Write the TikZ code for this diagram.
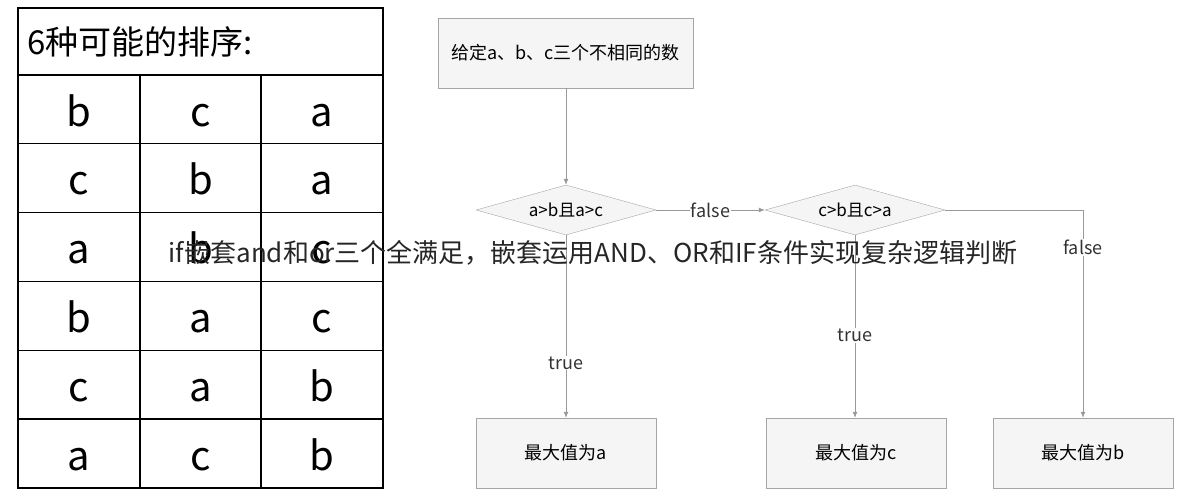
\documentclass[tikz,border=0pt]{standalone}
\usepackage{fontspec}
\setmainfont{Noto Sans CJK SC}
\usetikzlibrary{shapes.geometric,arrows.meta}
\begin{document}
\begin{tikzpicture}[x=1pt,y=-1pt,
 fbox/.style={draw=gray!70,fill=gray!8,minimum width=180pt,minimum height=70pt,font=\fontsize{18}{21}\selectfont,inner sep=0pt},
 dia/.style={diamond,draw=gray!70,fill=gray!8,aspect=3.6,minimum width=180pt,minimum height=50pt,inner sep=0pt,font=\fontsize{17}{20}\selectfont},
 conn/.style={draw=gray!80,line width=0.8pt,-{Latex[length=6pt,width=5pt]}},
 lab/.style={fill=white,inner sep=1pt,font=\fontsize{18}{21}\selectfont,text=black!80},
 cell/.style={font=\fontsize{40}{44}\selectfont,text height=30pt,text depth=0pt,inner sep=0pt}]
\useasboundingbox (0,0) rectangle (1187,490);
\fill[white] (0,0) rectangle (1187,490);
% table
\draw[line width=1.2pt] (18,8) rectangle (383,488);
\foreach \y in {75,143.8,212.6,281.4,350.2,419}{\draw[line width=1.2pt] (18,\y)--(383,\y);}
\draw[line width=1.2pt] (140,75)--(140,488) (261,75)--(261,488);
\node[anchor=west,font=\fontsize{33}{36}\selectfont] (hdr) at (24,42) {6种可能的排序:};
\foreach \r/\a/\b/\c [count=\i] in {0/b/c/a,1/c/b/a,2/a/b/c,3/b/a/c,4/c/a/b,5/a/c/b}{
 \node[cell] (t\i a) at (79,111+68.8*\r) {\a};
 \node[cell] (t\i b) at (200.5,111+68.8*\r) {\b};
 \node[cell] (t\i c) at (322,111+68.8*\r) {\c};}
% flowchart
\node[fbox,minimum width=255pt] (start) at (565.5,53) {给定a、b、c三个不相同的数};
\node[dia] (d1) at (566,210) {a>b且a>c};
\node[dia] (d2) at (855,210) {c>b且c>a};
\node[fbox] (r1) at (566,453) {最大值为a};
\node[fbox] (r2) at (856,453) {最大值为c};
\node[fbox] (r3) at (1083,453) {最大值为b};
\coordinate (k) at (1083,210);
\draw[conn] (start.south -| d1) -- (d1.north);
\draw[conn] (d1) -- node[lab]{false} (d2);
\draw[conn] (d1) -- node[lab,pos=0.7]{true} (r1);
\draw[conn] (d2.south) -- node[lab,pos=0.55]{true} (d2.south |- r2.north);
\draw[conn] (d2.east) -- (k) -- node[lab,pos=0.18]{false} (r3.north);
% overlay text
\node[font=\fontsize{26}{30}\selectfont,text=black!85] (wm) at (593,253) {if嵌套and和or三个全满足，嵌套运用AND、OR和IF条件实现复杂逻辑判断};
\end{tikzpicture}
\end{document}
